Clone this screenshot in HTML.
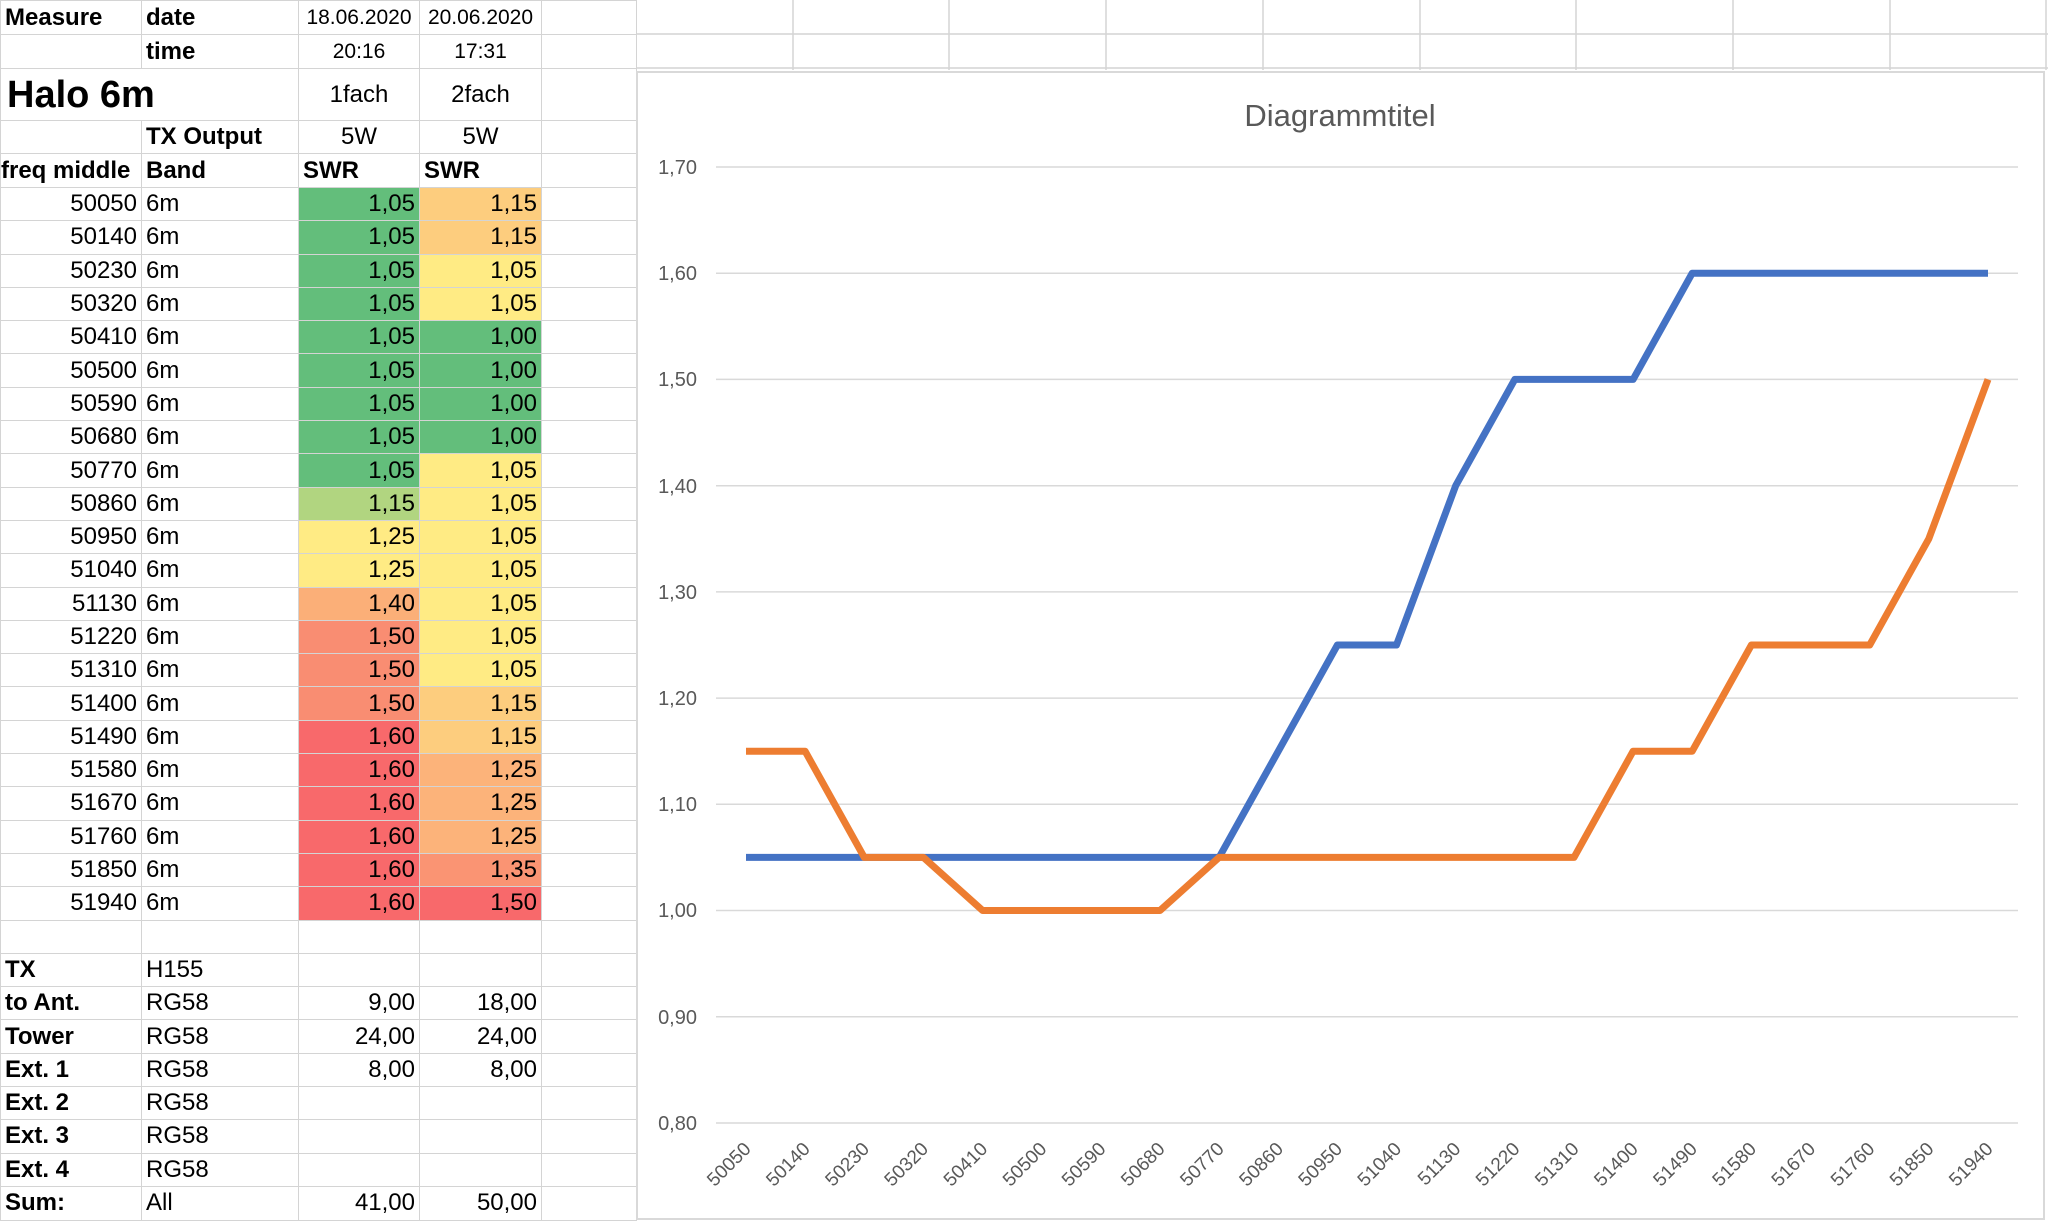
<!DOCTYPE html>
<html><head><meta charset="utf-8"><style>
body{margin:0;width:2048px;height:1221px;overflow:hidden;background:#fff;font-family:"Liberation Sans",Arial,sans-serif;position:relative}
table{border-collapse:collapse;position:absolute;left:0;top:0;table-layout:fixed}
td{border:1px solid #d4d4d4;padding:0 4px;font-size:24px;white-space:nowrap;overflow:hidden;color:#000;line-height:1}
.b{font-weight:bold}.r{text-align:right}.c{text-align:center}
.g{background:#63BE7B}.lg{background:#B1D580}.y{background:#FFEB84}.o1{background:#FDCD7E}.o2{background:#FCB37A}.o3{background:#FA9473}.o4{background:#FBAF78}.o5{background:#F98D72}.rd{background:#F8696B}
.sm{font-size:21px}
</style></head><body>
<svg width="2048" height="1221" style="position:absolute;left:0;top:0">
<g stroke="#d4d4d4" stroke-width="1.5">
<line x1="636" y1="34" x2="2048" y2="34"/><line x1="636" y1="68" x2="2048" y2="68"/>
<line x1="793" y1="0" x2="793" y2="70"/><line x1="949" y1="0" x2="949" y2="70"/><line x1="1106" y1="0" x2="1106" y2="70"/><line x1="1263" y1="0" x2="1263" y2="70"/><line x1="1420" y1="0" x2="1420" y2="70"/><line x1="1576" y1="0" x2="1576" y2="70"/><line x1="1733" y1="0" x2="1733" y2="70"/><line x1="1890" y1="0" x2="1890" y2="70"/><line x1="2046" y1="0" x2="2046" y2="70"/>
</g>
</svg>
<table>
<colgroup><col style="width:141px"><col style="width:157px"><col style="width:121px"><col style="width:122px"><col style="width:95px"></colgroup>
<tr style="height:34px"><td class="b">Measure</td><td class="b">date</td><td class="c sm">18.06.2020</td><td class="c sm">20.06.2020</td><td></td></tr>
<tr style="height:34px"><td></td><td class="b">time</td><td class="c sm">20:16</td><td class="c sm">17:31</td><td></td></tr>
<tr style="height:52px"><td colspan="2" class="b" style="font-size:38px;padding-left:6px">Halo 6m</td><td class="c">1fach</td><td class="c">2fach</td><td></td></tr>
<tr style="height:33px"><td></td><td class="b">TX Output</td><td class="c">5W</td><td class="c">5W</td><td></td></tr>
<tr style="height:34px"><td class="b" style="padding:0">freq middle</td><td class="b">Band</td><td class="b">SWR</td><td class="b">SWR</td><td></td></tr>
<tr style="height:33.3px"><td class="r">50050</td><td>6m</td><td class="r g">1,05</td><td class="r o1">1,15</td><td></td></tr>
<tr style="height:33.3px"><td class="r">50140</td><td>6m</td><td class="r g">1,05</td><td class="r o1">1,15</td><td></td></tr>
<tr style="height:33.3px"><td class="r">50230</td><td>6m</td><td class="r g">1,05</td><td class="r y">1,05</td><td></td></tr>
<tr style="height:33.3px"><td class="r">50320</td><td>6m</td><td class="r g">1,05</td><td class="r y">1,05</td><td></td></tr>
<tr style="height:33.3px"><td class="r">50410</td><td>6m</td><td class="r g">1,05</td><td class="r g">1,00</td><td></td></tr>
<tr style="height:33.3px"><td class="r">50500</td><td>6m</td><td class="r g">1,05</td><td class="r g">1,00</td><td></td></tr>
<tr style="height:33.3px"><td class="r">50590</td><td>6m</td><td class="r g">1,05</td><td class="r g">1,00</td><td></td></tr>
<tr style="height:33.3px"><td class="r">50680</td><td>6m</td><td class="r g">1,05</td><td class="r g">1,00</td><td></td></tr>
<tr style="height:33.3px"><td class="r">50770</td><td>6m</td><td class="r g">1,05</td><td class="r y">1,05</td><td></td></tr>
<tr style="height:33.3px"><td class="r">50860</td><td>6m</td><td class="r lg">1,15</td><td class="r y">1,05</td><td></td></tr>
<tr style="height:33.3px"><td class="r">50950</td><td>6m</td><td class="r y">1,25</td><td class="r y">1,05</td><td></td></tr>
<tr style="height:33.3px"><td class="r">51040</td><td>6m</td><td class="r y">1,25</td><td class="r y">1,05</td><td></td></tr>
<tr style="height:33.3px"><td class="r">51130</td><td>6m</td><td class="r o4">1,40</td><td class="r y">1,05</td><td></td></tr>
<tr style="height:33.3px"><td class="r">51220</td><td>6m</td><td class="r o5">1,50</td><td class="r y">1,05</td><td></td></tr>
<tr style="height:33.3px"><td class="r">51310</td><td>6m</td><td class="r o5">1,50</td><td class="r y">1,05</td><td></td></tr>
<tr style="height:33.3px"><td class="r">51400</td><td>6m</td><td class="r o5">1,50</td><td class="r o1">1,15</td><td></td></tr>
<tr style="height:33.3px"><td class="r">51490</td><td>6m</td><td class="r rd">1,60</td><td class="r o1">1,15</td><td></td></tr>
<tr style="height:33.3px"><td class="r">51580</td><td>6m</td><td class="r rd">1,60</td><td class="r o2">1,25</td><td></td></tr>
<tr style="height:33.3px"><td class="r">51670</td><td>6m</td><td class="r rd">1,60</td><td class="r o2">1,25</td><td></td></tr>
<tr style="height:33.3px"><td class="r">51760</td><td>6m</td><td class="r rd">1,60</td><td class="r o2">1,25</td><td></td></tr>
<tr style="height:33.3px"><td class="r">51850</td><td>6m</td><td class="r rd">1,60</td><td class="r o3">1,35</td><td></td></tr>
<tr style="height:33.3px"><td class="r">51940</td><td>6m</td><td class="r rd">1,60</td><td class="r rd">1,50</td><td></td></tr>
<tr style="height:33.3px"><td></td><td></td><td></td><td></td><td></td></tr>
<tr style="height:33.3px"><td class="b">TX</td><td>H155</td><td></td><td></td><td></td></tr>
<tr style="height:33.3px"><td class="b">to Ant.</td><td>RG58</td><td class="r">9,00</td><td class="r">18,00</td><td></td></tr>
<tr style="height:33.3px"><td class="b">Tower</td><td>RG58</td><td class="r">24,00</td><td class="r">24,00</td><td></td></tr>
<tr style="height:33.3px"><td class="b">Ext. 1</td><td>RG58</td><td class="r">8,00</td><td class="r">8,00</td><td></td></tr>
<tr style="height:33.3px"><td class="b">Ext. 2</td><td>RG58</td><td></td><td></td><td></td></tr>
<tr style="height:33.3px"><td class="b">Ext. 3</td><td>RG58</td><td></td><td></td><td></td></tr>
<tr style="height:33.3px"><td class="b">Ext. 4</td><td>RG58</td><td></td><td></td><td></td></tr>
<tr style="height:34px"><td class="b">Sum:</td><td>All</td><td class="r">41,00</td><td class="r">50,00</td><td></td></tr>
</table>
<svg width="2048" height="1221" style="position:absolute;left:0;top:0">
<rect x="637" y="72" width="1407" height="1147" fill="#fff" stroke="#d9d9d9" stroke-width="2"/>
<text x="1340" y="126" font-size="31" fill="#595959" text-anchor="middle" font-family="Liberation Sans, sans-serif">Diagrammtitel</text>
<g stroke="#d9d9d9" stroke-width="1.5">
<line x1="716" y1="167" x2="2018" y2="167"/><line x1="716" y1="273.2" x2="2018" y2="273.2"/><line x1="716" y1="379.4" x2="2018" y2="379.4"/><line x1="716" y1="485.7" x2="2018" y2="485.7"/><line x1="716" y1="591.9" x2="2018" y2="591.9"/><line x1="716" y1="698.1" x2="2018" y2="698.1"/><line x1="716" y1="804.3" x2="2018" y2="804.3"/><line x1="716" y1="910.5" x2="2018" y2="910.5"/><line x1="716" y1="1016.8" x2="2018" y2="1016.8"/><line x1="716" y1="1123" x2="2018" y2="1123"/>
</g>
<g font-size="20" fill="#595959" text-anchor="end" font-family="Liberation Sans, sans-serif">
<text x="697" y="174">1,70</text><text x="697" y="280">1,60</text><text x="697" y="386">1,50</text><text x="697" y="493">1,40</text><text x="697" y="599">1,30</text><text x="697" y="705">1,20</text><text x="697" y="811">1,10</text><text x="697" y="917">1,00</text><text x="697" y="1024">0,90</text><text x="697" y="1130">0,80</text>
</g>
<polyline fill="none" stroke="#4472C4" stroke-width="7" stroke-linejoin="round" points="746,857.4 805.1,857.4 864.3,857.4 923.4,857.4 982.6,857.4 1041.7,857.4 1100.8,857.4 1160,857.4 1219.1,857.4 1278.3,751.2 1337.4,645 1396.5,645 1455.7,485.7 1514.8,379.4 1574,379.4 1633.1,379.4 1692.2,273.2 1751.4,273.2 1810.5,273.2 1869.7,273.2 1928.8,273.2 1988,273.2"/>
<polyline fill="none" stroke="#ED7D31" stroke-width="7" stroke-linejoin="round" points="746,751.2 805.1,751.2 864.3,857.4 923.4,857.4 982.6,910.5 1041.7,910.5 1100.8,910.5 1160,910.5 1219.1,857.4 1278.3,857.4 1337.4,857.4 1396.5,857.4 1455.7,857.4 1514.8,857.4 1574,857.4 1633.1,751.2 1692.2,751.2 1751.4,645 1810.5,645 1869.7,645 1928.8,538.8 1988,379.4"/>
<g font-size="19" fill="#595959" text-anchor="end" font-family="Liberation Sans, sans-serif">
<text transform="translate(752,1150) rotate(-45)">50050</text>
<text transform="translate(811.1,1150) rotate(-45)">50140</text>
<text transform="translate(870.3,1150) rotate(-45)">50230</text>
<text transform="translate(929.4,1150) rotate(-45)">50320</text>
<text transform="translate(988.6,1150) rotate(-45)">50410</text>
<text transform="translate(1047.7,1150) rotate(-45)">50500</text>
<text transform="translate(1106.8,1150) rotate(-45)">50590</text>
<text transform="translate(1166,1150) rotate(-45)">50680</text>
<text transform="translate(1225.1,1150) rotate(-45)">50770</text>
<text transform="translate(1284.3,1150) rotate(-45)">50860</text>
<text transform="translate(1343.4,1150) rotate(-45)">50950</text>
<text transform="translate(1402.5,1150) rotate(-45)">51040</text>
<text transform="translate(1461.7,1150) rotate(-45)">51130</text>
<text transform="translate(1520.8,1150) rotate(-45)">51220</text>
<text transform="translate(1580,1150) rotate(-45)">51310</text>
<text transform="translate(1639.1,1150) rotate(-45)">51400</text>
<text transform="translate(1698.2,1150) rotate(-45)">51490</text>
<text transform="translate(1757.4,1150) rotate(-45)">51580</text>
<text transform="translate(1816.5,1150) rotate(-45)">51670</text>
<text transform="translate(1875.7,1150) rotate(-45)">51760</text>
<text transform="translate(1934.8,1150) rotate(-45)">51850</text>
<text transform="translate(1994,1150) rotate(-45)">51940</text>
</g>
</svg>
</body></html>
